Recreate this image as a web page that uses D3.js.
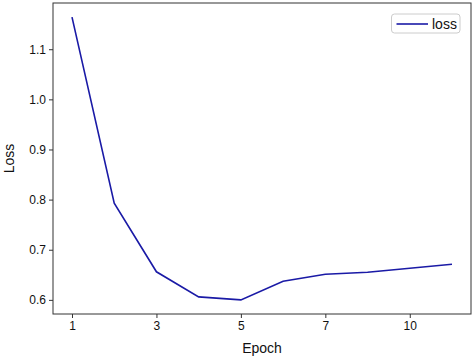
<!DOCTYPE html>
<html><head><meta charset="utf-8">
<script src="https://cdn.jsdelivr.net/npm/d3@7"></script>
<style>body{margin:0;background:#fff}svg{display:block}text{font-family:"Liberation Sans",Arial,sans-serif}</style>
</head><body><svg id="c" width="475" height="357"></svg>
<script>
const epochs = [1,2,3,4,5,6,7,8,9,10];
const loss = [1.164,0.793,0.656,0.606,0.600,0.637,0.651,0.655,0.663,0.671];
const xTickPos = [1,3,5,7,9];
const xTickLabels = ["1","3","5","7","10"];
const yTicks = [0.6,0.7,0.8,0.9,1.0,1.1];
const seriesName = "loss";

const svg = d3.select("#c");
const L=53, R=471, T=3, B=314;
const x = d3.scaleLinear().domain([0.55,10.45]).range([L,R]);
const y = d3.scaleLinear().domain([0.5718,1.1922]).range([B,T]);
const col = "#1a1aa6";

svg.append("path").datum(epochs.map((e,i)=>[e,loss[i]]))
  .attr("fill","none").attr("stroke",col).attr("stroke-width",1.6)
  .attr("d", d3.line().x(d=>x(d[0])).y(d=>y(d[1])));

svg.append("rect").attr("x",L).attr("y",T).attr("width",R-L).attr("height",B-T)
  .attr("fill","none").attr("stroke","#333").attr("stroke-width",1);

const xa = svg.append("g").attr("transform",`translate(0,${B})`)
  .call(d3.axisBottom(x).tickValues(xTickPos).tickFormat((d,i)=>xTickLabels[i]).tickSize(4).tickPadding(3));
const ya = svg.append("g").attr("transform",`translate(${L},0)`)
  .call(d3.axisLeft(y).tickValues(yTicks).tickFormat(d3.format(".1f")).tickSize(4).tickPadding(3));
[xa,ya].forEach(a=>{a.select(".domain").remove();a.selectAll("line").attr("stroke","#333");
  a.selectAll("text").attr("font-size",12).attr("fill","#111").attr("font-family","'Liberation Sans',Arial,sans-serif");});

svg.append("text").attr("x",(L+R)/2).attr("y",353).attr("text-anchor","middle")
  .attr("font-size",14).attr("fill","#111").text("Epoch");
svg.append("text").attr("transform",`translate(14,${(T+B)/2}) rotate(-90)`).attr("text-anchor","middle")
  .attr("font-size",14).attr("fill","#111").text("Loss");

const lg = svg.append("g");
lg.append("rect").attr("x",391.5).attr("y",14).attr("width",68.5).attr("height",19).attr("rx",3)
  .attr("fill","#fff").attr("stroke","#ccc");
lg.append("line").attr("x1",396.5).attr("x2",428).attr("y1",24).attr("y2",24).attr("stroke",col).attr("stroke-width",1.6);
lg.append("text").attr("x",432).attr("y",29).attr("font-size",14).attr("fill","#111").text(seriesName);
</script></body></html>
